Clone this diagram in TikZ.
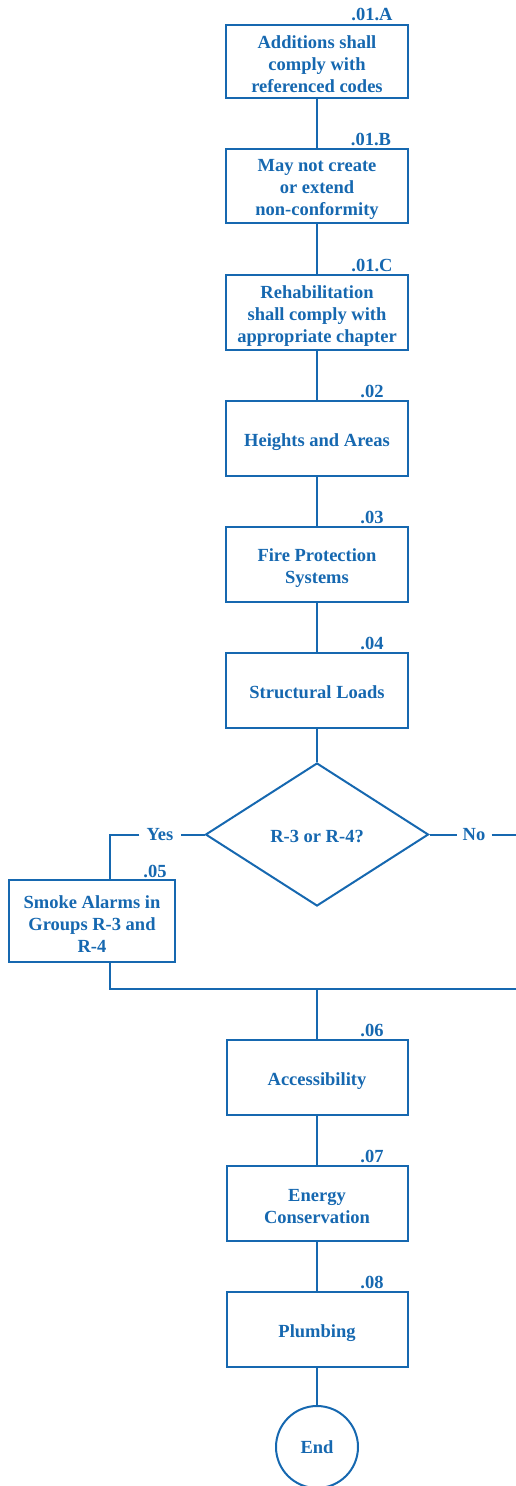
\documentclass[tikz,border=0pt]{standalone}
\usepackage{fontspec}
\setmainfont{Liberation Serif}
\usetikzlibrary{shapes.geometric}
\definecolor{codeblue}{RGB}{22,104,176}
% invisible strut that lowers the text block inside each box a little
\newcommand\boxstrut{\rule{0pt}{19pt}}
\begin{document}
\begin{tikzpicture}[x=1pt,y=-1pt,
  every node/.style={text=codeblue, font=\bfseries\fontsize{18.5}{22}\selectfont},
  oneline/.style={text depth=4pt, execute at begin node={\boxstrut}},
  stepbox/.style={draw=codeblue, line width=2pt, rectangle, minimum width=182pt,
    minimum height=75pt, align=center, inner sep=0pt},
  tag/.style={anchor=base},
  answer/.style={anchor=base, inner ysep=0pt},
  link/.style={draw=codeblue, line width=2pt}]
\useasboundingbox (0,0) rectangle (516,1486);

% main sequence of sections
\node[stepbox, minimum height=73pt] (b1) at (317,61.5) {\boxstrut Additions shall\\comply with\\referenced codes};
\node[stepbox, minimum height=74pt] (b2) at (317,186) {\boxstrut May not create\\or extend\\non-conformity};
\node[stepbox] (b3) at (317,312.5) {\boxstrut Rehabilitation\\shall comply with\\appropriate chapter};
\node[stepbox, oneline] (b4) at (317,438.5) {Heights and Areas};
\node[stepbox] (b5) at (317,564.5) {\boxstrut Fire Protection\\Systems};
\node[stepbox, oneline] (b6) at (317,690.5) {Structural Loads};

% occupancy decision
\node[draw=codeblue, line width=2pt, diamond, aspect=1.56, minimum width=223pt,
  minimum height=143pt, inner sep=0pt, oneline] (d) at (317,834.5) {R-3 or R-4?};
\node[stepbox, minimum width=166pt, minimum height=82pt] (b05) at (92,921) {\boxstrut Smoke Alarms in\\Groups R-3 and\\R-4};

\node[stepbox, oneline, minimum width=181pt] (b06) at (317,1077.5) {Accessibility};
\node[stepbox, minimum width=181pt] (b07) at (317,1203.5) {\boxstrut Energy\\Conservation};
\node[stepbox, oneline, minimum width=181pt] (b08) at (317,1329.5) {Plumbing};
\node[draw=codeblue, line width=2pt, circle, minimum size=82pt, inner sep=0pt] (end) at (317,1447) {End};

% section numbers
\node[tag] (t1) at (372,20) {.01.A};
\node[tag] (t2) at (371,145) {.01.B};
\node[tag] (t3) at (372,271) {.01.C};
\node[tag] (t4) at (372,397) {.02};
\node[tag] (t5) at (372,523) {.03};
\node[tag] (t6) at (372,649) {.04};
\node[tag] (t05) at (155,877) {.05};
\node[tag] (t06) at (372,1036) {.06};
\node[tag] (t07) at (372,1162) {.07};
\node[tag] (t08) at (372,1288) {.08};

% branch labels
\node[answer, inner xsep=7pt] (yes) at (160,840) {Yes};
\node[answer, inner xsep=6pt] (no) at (474,840) {No};

\coordinate (ycorner) at (110,834.5);
\coordinate (noend) at (516,834.5);
\coordinate (jleft) at (110,989);
\coordinate (jmid) at (317,989);
\coordinate (jright) at (516,989);

% connectors
\draw[link] (b1) -- (b2);
\draw[link] (b2) -- (b3);
\draw[link] (b3) -- (b4);
\draw[link] (b4) -- (b5);
\draw[link] (b5) -- (b6);
\draw[link] (b6) -- (d);
\draw[link] (d.west) -- (yes.east |- d.west);
\draw[link] (yes.west |- d.west) -- (ycorner) -- (ycorner |- b05.north);
\draw[link] (d.east) -- (no.west |- d.east);
\draw[link] (no.east |- d.east) -- (noend);
\draw[link] (jleft |- b05.south) -- (jleft) -- (jright);
\draw[link] (jmid) -- (b06);
\draw[link] (b06) -- (b07);
\draw[link] (b07) -- (b08);
\draw[link] (b08) -- (end);
\end{tikzpicture}
\end{document}
